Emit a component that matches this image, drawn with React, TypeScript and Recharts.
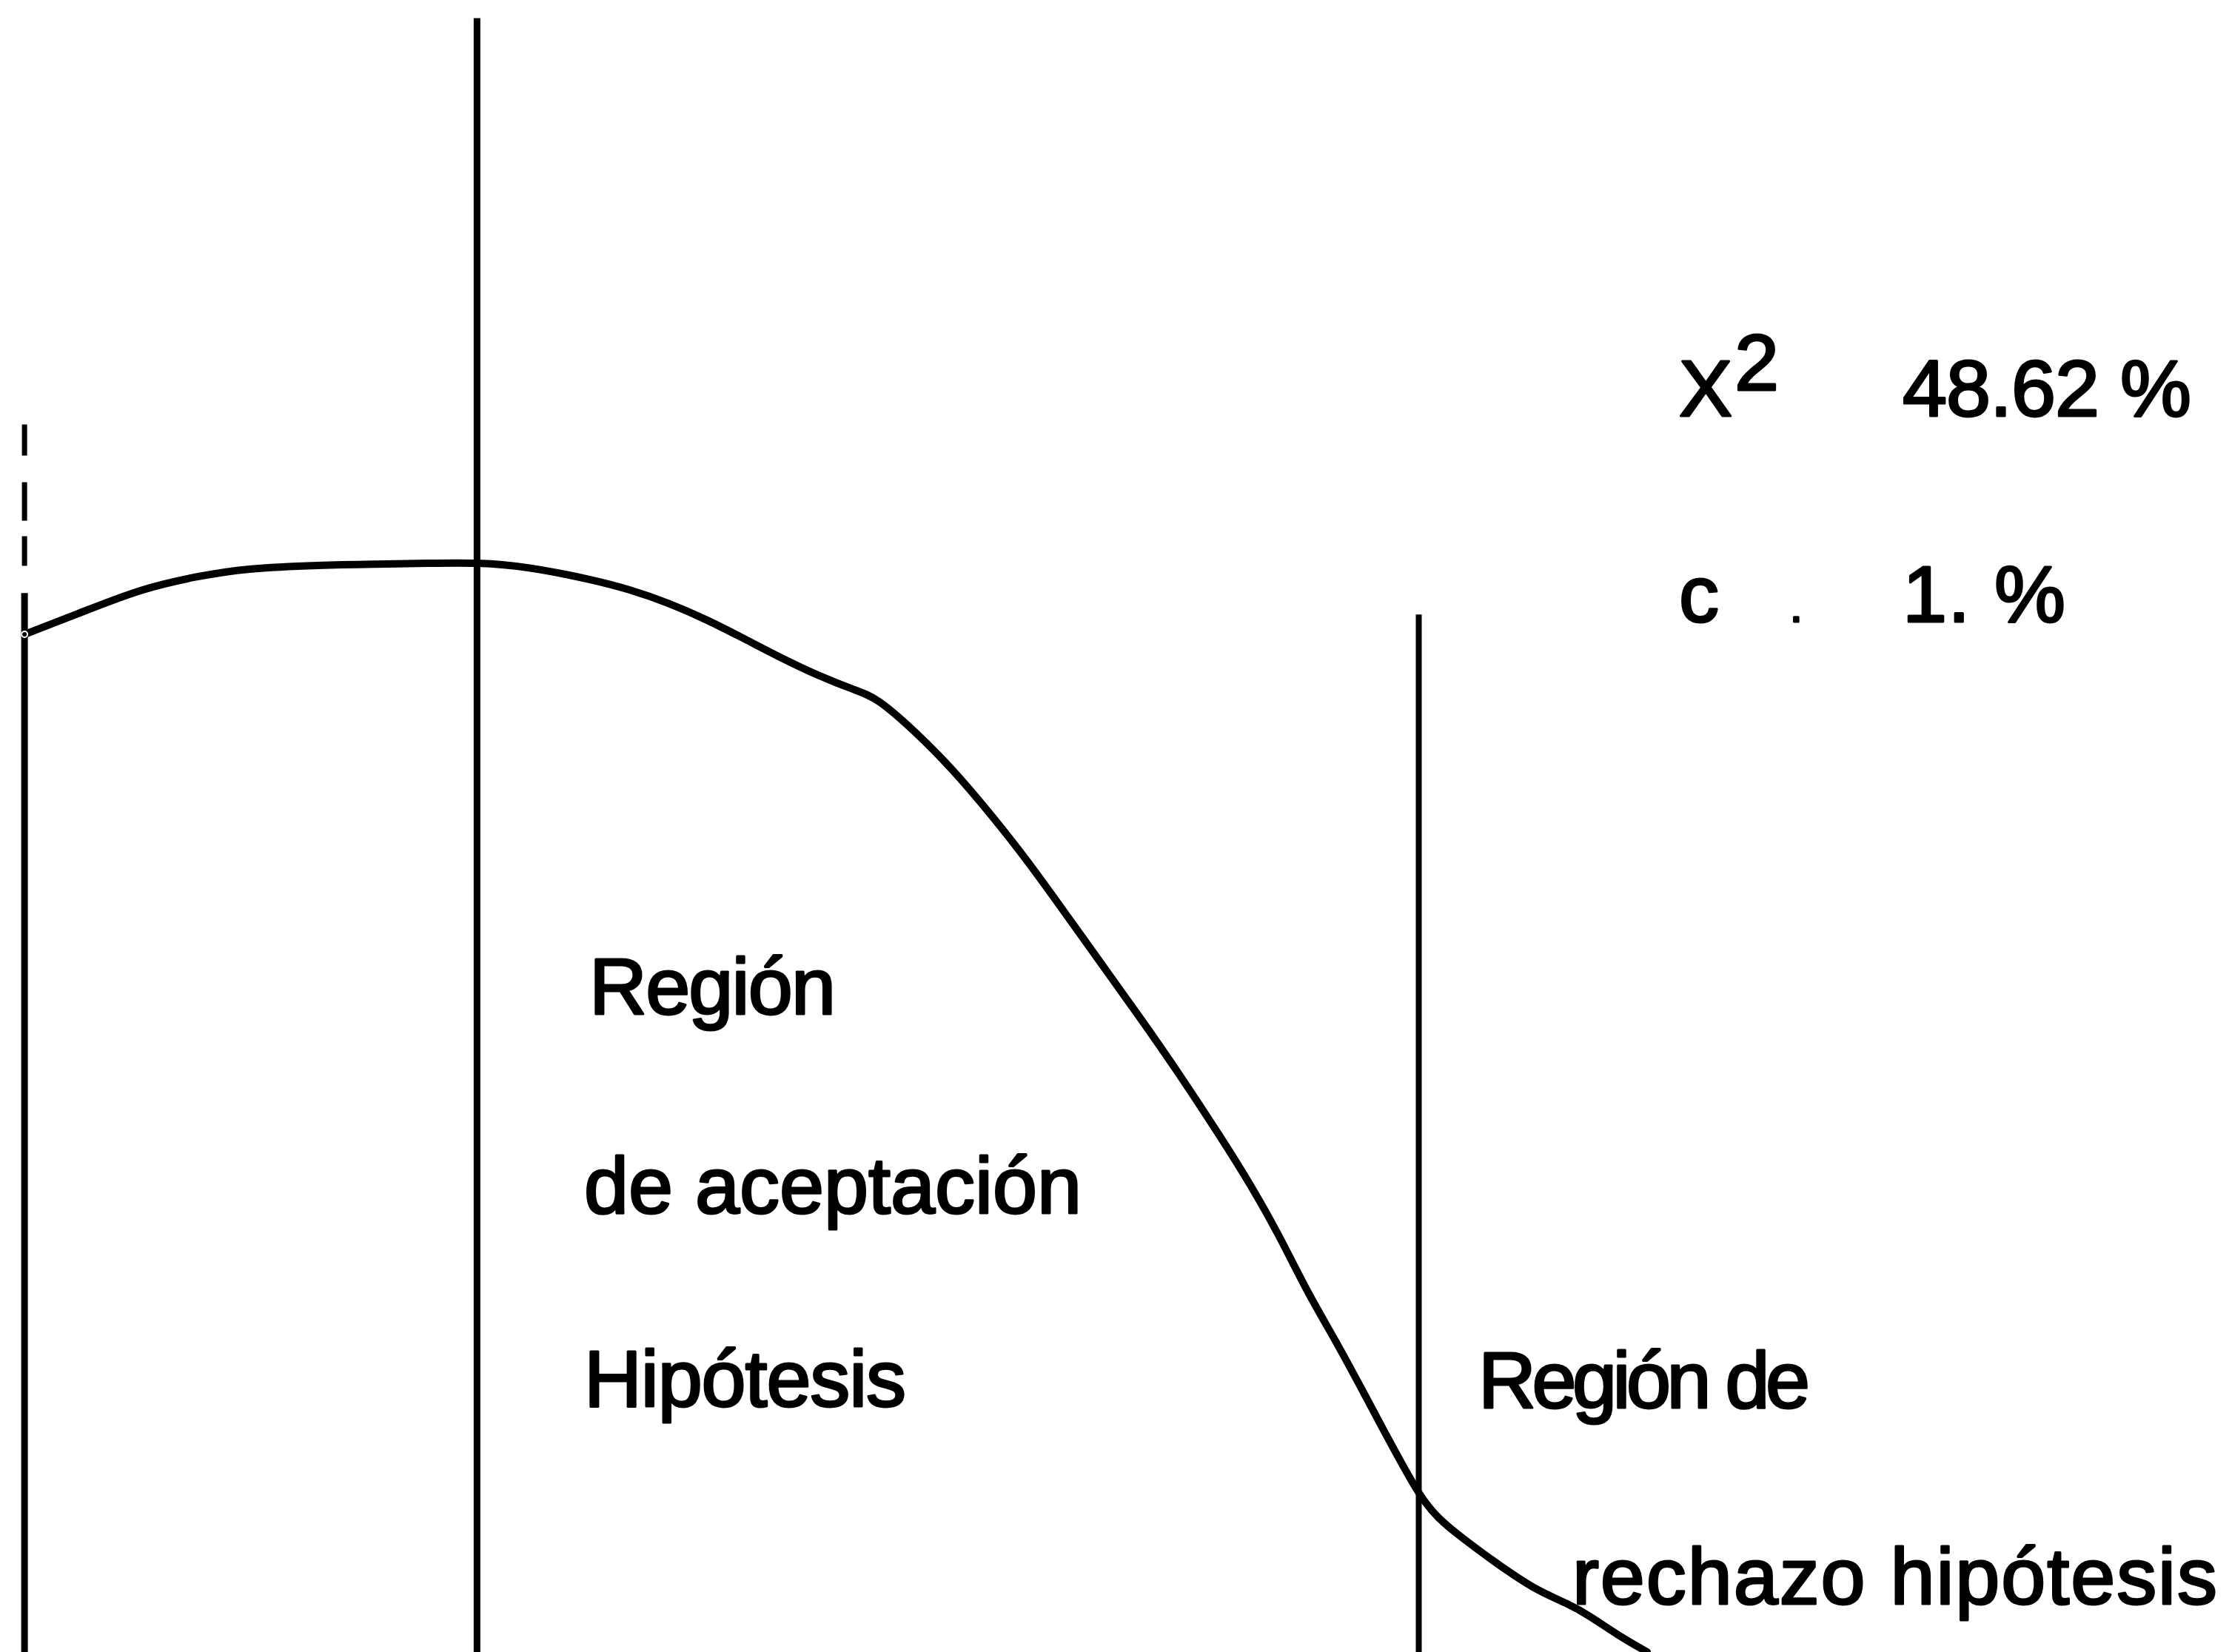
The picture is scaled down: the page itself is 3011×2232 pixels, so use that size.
import React from 'react';
import { LineChart, Line, XAxis, YAxis, ReferenceLine, Customized } from 'recharts';

// Curve of the test statistic (abstract units 0-100 on both axes)
const curveX = [1.1, 3.4, 6.4, 8.8, 11.0, 14.4, 16.9, 19.2, 21.4, 23.7, 26.6, 28.3, 30.0, 31.7, 33.3, 35.0, 36.7, 38.4, 39.3, 41.0, 42.7, 44.4, 46.1, 47.8, 49.5, 51.2, 52.8, 54.8, 56.1, 57.4, 58.6, 59.9, 61.1, 62.4, 63.7, 64.5, 65.6, 66.9, 68.8, 70.4, 71.3, 72.6, 73.9];
const curveY = [61.6, 62.8, 64.4, 65.1, 65.6, 65.8, 65.85, 65.9, 65.95, 65.7, 64.9, 64.3, 63.5, 62.5, 61.4, 60.2, 59.1, 58.2, 57.8, 55.8, 53.5, 50.8, 47.9, 44.7, 41.5, 38.3, 35.2, 31.1, 28.3, 25.2, 21.9, 18.9, 15.9, 12.6, 9.4, 8.1, 6.9, 5.6, 3.8, 2.9, 2.2, 1.0, 0.0];

// Vertical boundary lines
const leftLineX = 1.1;
const leftSolidTop = 64.1;
const leftDashedTop = 74.3;
const midLineX = 21.4;
const midLineTop = 98.9;
const rightLineX = 63.65;
const rightLineTop = 62.8;

// Annotation texts
const statLabel = 'X';
const statSup = '2';
const statValue = '48.62 %';
const sigLabel = 'c';
const sigValue = '1. %';
const acceptLines = ['Región', 'de aceptación', 'Hipótesis'];
const rejectLines = ['Región de', 'rechazo hipótesis'];

const data = curveX.map((x, i) => ({ x, y: curveY[i] }));

const W = 3011;
const H = 2232;
const FONT = '"Liberation Sans", Arial, Helvetica, sans-serif';
const FS = 108;

const txt = {
  fontFamily: FONT,
  fontSize: FS,
  fill: '#000',
  stroke: '#000',
  strokeWidth: 3,
  strokeLinejoin: 'round',
} as const;

const Annotations = () => (
  <g>
    <text x={2268} y={562} {...txt}>{statLabel}</text>
    <text x={2343} y={527} {...txt}>{statSup}</text>
    <text x={2570} y={562} {...txt} textLength={390}>{statValue}</text>
    <text x={2268} y={840} {...txt}>{sigLabel}</text>
    <text x={2418} y={840} {...txt} fontSize={60}>.</text>
    <text x={2570} y={840} {...txt} textLength={220}>{sigValue}</text>
    <text x={796} y={1370} {...txt} textLength={333}>{acceptLines[0]}</text>
    <text x={789} y={1639} {...txt} textLength={672}>{acceptLines[1]}</text>
    <text x={789} y={1900} {...txt} textLength={435}>{acceptLines[2]}</text>
    <text x={1997} y={1902} {...txt} textLength={448}>{rejectLines[0]}</text>
    <text x={2124} y={2167} {...txt} textLength={871}>{rejectLines[1]}</text>
  </g>
);

export default function App() {
  return (
    <div style={{ position: 'absolute', left: 0, top: 0, width: W, height: H, background: '#fff' }}>
      <LineChart width={W} height={H} data={data} margin={{ top: 0, right: 0, bottom: 0, left: 0 }}>
        <XAxis type="number" dataKey="x" domain={[0, 100]} hide />
        <YAxis type="number" domain={[0, 100]} hide width={0} />
        <ReferenceLine
          segment={[{ x: leftLineX, y: 0 }, { x: leftLineX, y: leftSolidTop }]}
          stroke="#000"
          strokeWidth={9}
        />
        <ReferenceLine
          segment={[{ x: leftLineX, y: leftDashedTop }, { x: leftLineX, y: leftSolidTop }]}
          stroke="#000"
          strokeWidth={7}
          strokeDasharray="42 36 52 21 40 38"
        />
        <ReferenceLine
          segment={[{ x: midLineX, y: 0 }, { x: midLineX, y: midLineTop }]}
          stroke="#000"
          strokeWidth={9}
        />
        <ReferenceLine
          segment={[{ x: rightLineX, y: 0 }, { x: rightLineX, y: rightLineTop }]}
          stroke="#000"
          strokeWidth={8}
        />
        <Line
          type="basis"
          dataKey="y"
          stroke="#000"
          strokeWidth={10}
          dot={false}
          isAnimationActive={false}
          strokeLinejoin="round"
          strokeLinecap="round"
        />
        <Customized component={Annotations} />
      </LineChart>
    </div>
  );
}
